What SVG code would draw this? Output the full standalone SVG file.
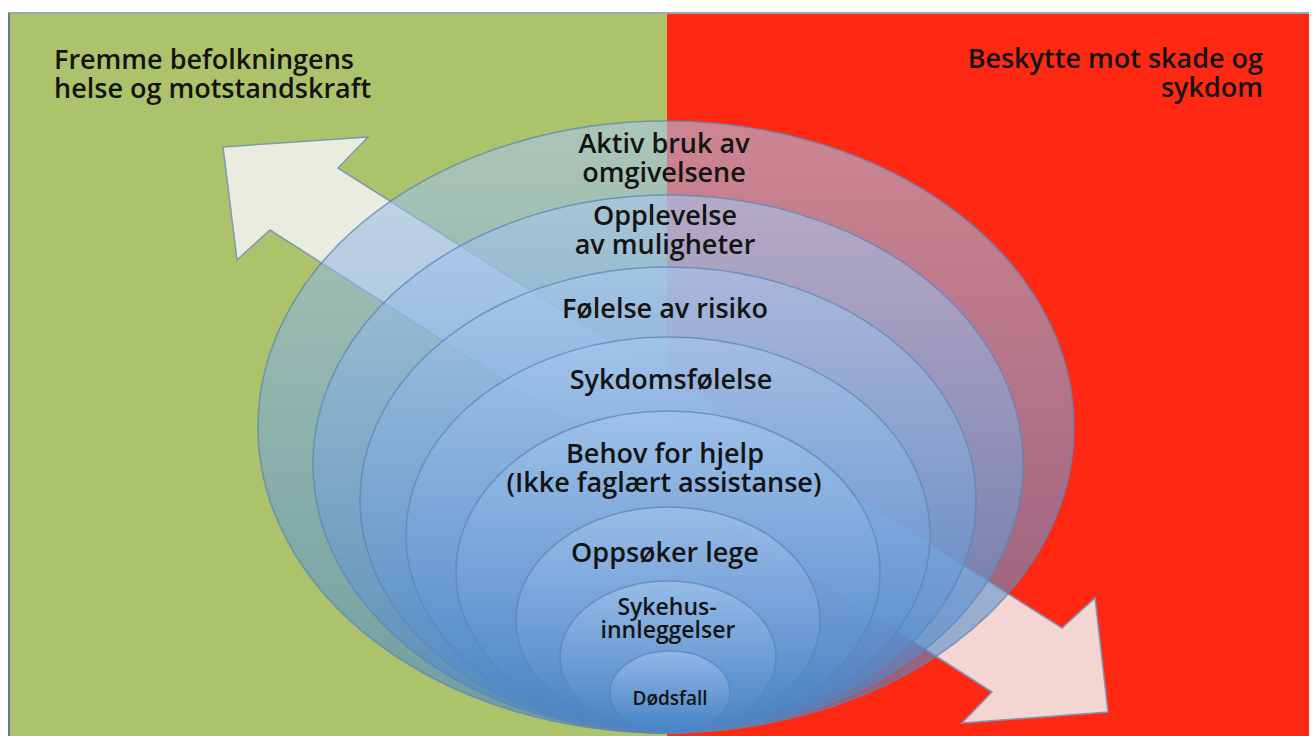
<svg xmlns="http://www.w3.org/2000/svg" width="1314" height="736" viewBox="0 0 1314 736">
  <defs>
    <linearGradient id="blue" x1="0" y1="0" x2="0" y2="1">
      <stop offset="0" stop-color="#a9c8ee"/>
      <stop offset="1" stop-color="#4582c6"/>
    </linearGradient>
    <style>
      .ring { fill: url(#blue); fill-opacity: 0.58; stroke: #5a86b8; stroke-opacity: 0.75; stroke-width: 1.5; }
      .t { font-family: "Open Sans", "Liberation Sans", sans-serif; font-weight: 600; fill: #141414; }
      .lab { font-size: 27px; text-anchor: middle; }
      .title { font-size: 27px; }
    </style>
  </defs>
  <rect width="1314" height="736" fill="#ffffff"/>
  <g id="background">
    <rect x="9" y="13" width="658" height="723" fill="#adc36b"/>
    <rect x="667" y="13" width="642" height="723" fill="#ff2913"/>
    <line x1="8" y1="13" x2="1309" y2="13" stroke="#98a6b8" stroke-width="2"/>
    <line x1="9" y1="13" x2="9" y2="736" stroke="#5f7f90" stroke-width="2"/>
  </g>
  <g id="connectors">
    <polygon id="arrow" points="223,147 368,137 338,168 1062,628 1095,598 1108,712 962,723 992,692 270,230 237,260" fill="#f2f2f2" fill-opacity="0.86" stroke="#7d98b0" stroke-width="1.5" stroke-linejoin="miter"/>
  </g>
  <g id="rings">
    <ellipse id="ring1" class="ring" cx="666" cy="427" rx="408" ry="306"/>
    <ellipse id="ring2" class="ring" cx="668" cy="464" rx="355" ry="269"/>
    <ellipse id="ring3" class="ring" cx="668" cy="500" rx="308" ry="233"/>
    <ellipse id="ring4" class="ring" cx="668" cy="535" rx="262" ry="198"/>
    <ellipse id="ring5" class="ring" cx="668" cy="572" rx="212" ry="161"/>
    <ellipse id="ring6" class="ring" cx="668" cy="620" rx="152" ry="113"/>
    <ellipse id="ring7" class="ring" cx="668" cy="657" rx="108" ry="76"/>
    <ellipse id="ring8" class="ring" cx="670" cy="692" rx="60" ry="41"/>
  </g>
  <g id="titles">
    <text class="t title" x="54" y="69">Fremme befolkningens</text>
    <text class="t title" x="54" y="98">helse og motstandskraft</text>
    <text class="t title" x="1263" y="68" text-anchor="end">Beskytte mot skade og</text>
    <text class="t title" x="1263" y="97" text-anchor="end">sykdom</text>
  </g>
  <g id="labels">
    <text class="t lab" x="664" y="153">Aktiv bruk av</text>
    <text class="t lab" x="664" y="182">omgivelsene</text>
    <text class="t lab" x="665" y="225">Opplevelse</text>
    <text class="t lab" x="665" y="254">av muligheter</text>
    <text class="t lab" x="665" y="318">Følelse av risiko</text>
    <text class="t lab" x="671" y="389">Sykdomsfølelse</text>
    <text class="t lab" x="665" y="463">Behov for hjelp</text>
    <text class="t lab" x="664" y="492">(Ikke faglært assistanse)</text>
    <text class="t lab" x="665" y="562">Oppsøker lege</text>
    <text class="t lab" x="667" y="615" style="font-size:23px">Sykehus-</text>
    <text class="t lab" x="668" y="638" style="font-size:23px">innleggelser</text>
    <text class="t lab" x="670" y="705" style="font-size:19px">Dødsfall</text>
  </g>
</svg>
